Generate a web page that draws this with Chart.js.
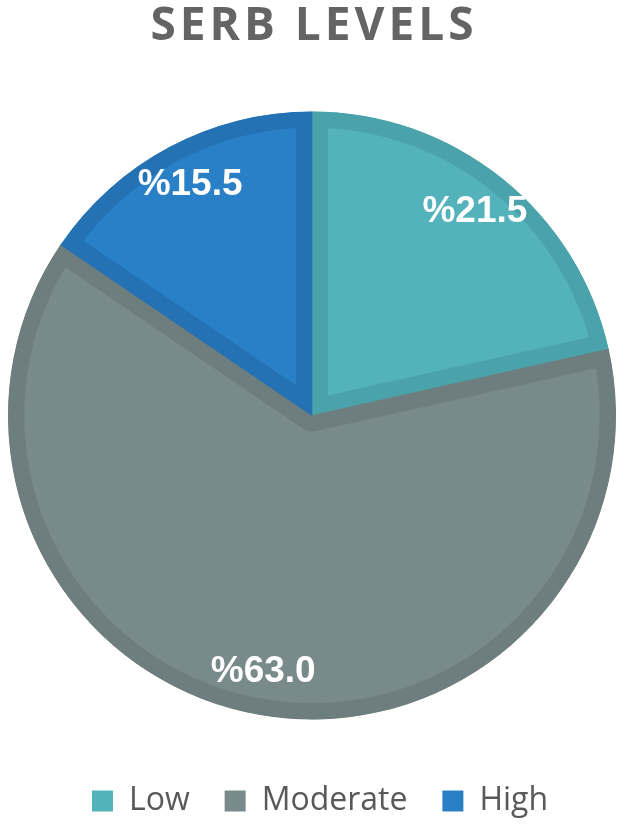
<!DOCTYPE html>
<html>
<head>
<meta charset="utf-8">
<script src="https://cdn.jsdelivr.net/npm/chart.js@4/dist/chart.umd.min.js"></script>
<style>
  html, body { margin: 0; padding: 0; background: #ffffff; }
  #wrap { width: 624px; height: 827px; position: relative; }
</style>
</head>
<body>
<div id="wrap"><canvas id="c" width="624" height="827"></canvas></div>
<script>
const categories = ['Low', 'Moderate', 'High'];
const values = [21.5, 63.0, 15.5];
const valueLabels = ['%21.5', '%63.0', '%15.5'];
const titleText = 'SERB LEVELS';

const fillColors = ['#53b2ba', '#788a8a', '#2a80c6'];
const borderColors = ['#4aa2aa', '#6e7d7d', '#2471b3'];

const sliceLabelPlugin = {
  id: 'sliceLabels',
  afterDatasetsDraw(chart) {
    const ctx = chart.ctx;
    const meta = chart.getDatasetMeta(0);
    ctx.save();
    ctx.font = 'bold 37px "Liberation Sans", Arial, sans-serif';
    ctx.fillStyle = '#ffffff';
    ctx.textAlign = 'center';
    ctx.textBaseline = 'middle';
    meta.data.forEach((arc, i) => {
      const p = arc.getProps(['x', 'y', 'startAngle', 'endAngle', 'outerRadius'], true);
      const mid = (p.startAngle + p.endAngle) / 2;
      const r = p.outerRadius * 0.857;
      ctx.fillText(valueLabels[i], p.x + Math.cos(mid) * r, p.y + Math.sin(mid) * r);
    });
    ctx.restore();
  }
};

const spacedTitlePlugin = {
  id: 'spacedTitle',
  afterDraw(chart) {
    const ctx = chart.ctx;
    ctx.save();
    ctx.font = 'bold 46px "Open Sans", sans-serif';
    ctx.fillStyle = '#646464';
    ctx.textBaseline = 'middle';
    ctx.textAlign = 'left';
    const spacing = 4;
    const chars = Array.from(titleText);
    const widths = chars.map(ch => ctx.measureText(ch).width);
    const total = widths.reduce((a, b) => a + b, 0) + spacing * (chars.length - 1);
    let x = chart.width / 2 - total / 2;
    chars.forEach((ch, i) => {
      ctx.fillText(ch, x, 27);
      x += widths[i] + spacing;
    });
    ctx.restore();
  }
};

const legendShiftPlugin = {
  id: 'legendShift',
  afterLayout(chart) {
    if (chart.legend) {
      chart.legend.left += 8;
      chart.legend.right += 8;
    }
  }
};

new Chart(document.getElementById('c'), {
  type: 'pie',
  data: {
    labels: categories,
    datasets: [{
      data: values,
      backgroundColor: fillColors,
      borderColor: borderColors,
      borderWidth: 16,
      borderAlign: 'inner',
      hoverBorderWidth: 16
    }]
  },
  options: {
    responsive: false,
    animation: false,
    events: [],
    radius: 304,
    layout: { padding: { top: 56, bottom: 0, left: 0, right: 0 } },
    plugins: {
      title: { display: false },
      legend: {
        display: true,
        position: 'bottom',
        labels: {
          color: '#595959',
          font: { family: '"Open Sans", sans-serif', size: 32 },
          boxWidth: 21,
          boxHeight: 21,
          padding: 10,
          generateLabels(chart) {
            const items = Chart.overrides.pie.plugins.legend.labels.generateLabels(chart);
            items.forEach((it, i) => {
              it.text = it.text + (i < items.length - 1 ? '   ' : '');
              it.lineWidth = 0;
              it.strokeStyle = it.fillStyle;
            });
            return items;
          }
        }
      },
      tooltip: { enabled: false }
    }
  },
  plugins: [sliceLabelPlugin, spacedTitlePlugin, legendShiftPlugin]
});
</script>
</body>
</html>
